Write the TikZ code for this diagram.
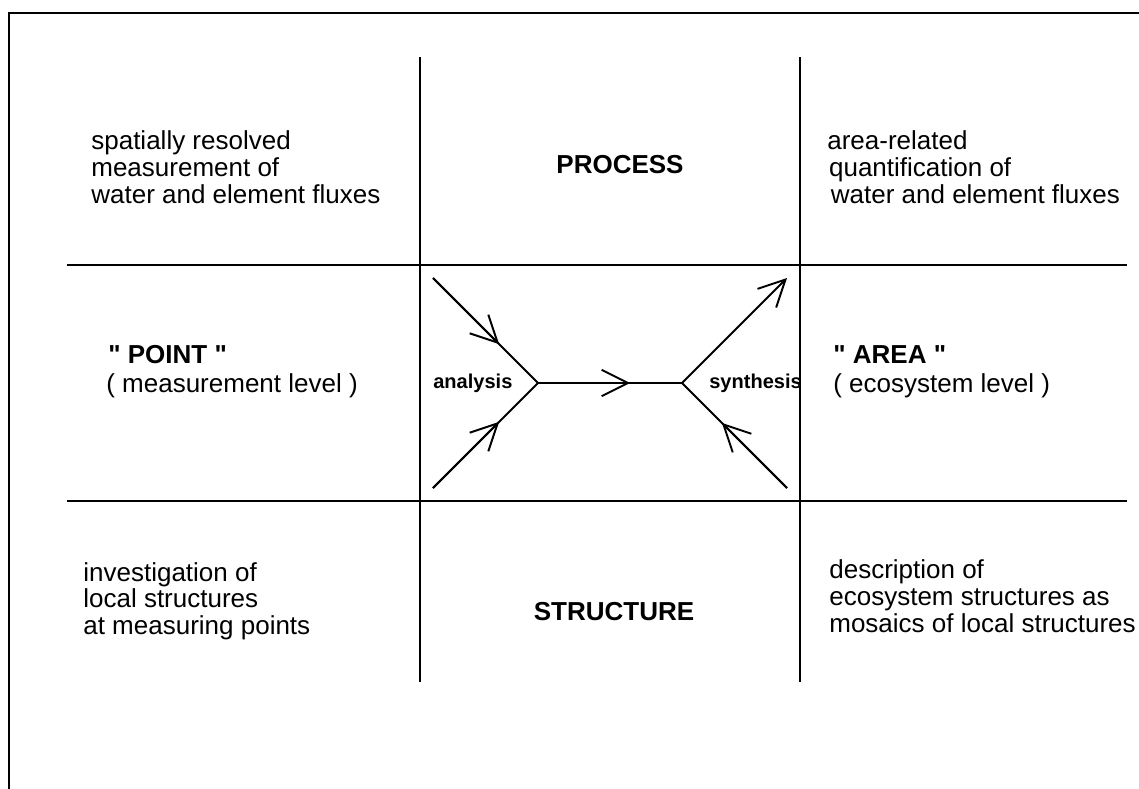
\documentclass[tikz,border=0pt]{standalone}
\usepackage{fontspec}
\setmainfont{Liberation Sans}[Ligatures=TeXOff]
\usetikzlibrary{arrows.meta, calc, positioning}
\tikzstyle{txt} = [anchor=west, align=left, inner sep=0pt,
    font=\fontsize{14.8}{15.2}\selectfont]
\tikzstyle{head} = [inner sep=0pt, font=\fontsize{14.8}{15.2}\selectfont\bfseries]
\tikzstyle{small} = [anchor=west, inner sep=0pt, font=\fontsize{11.4}{12}\selectfont\bfseries]
\tikzstyle{flow} = [line width=1.1pt]
\tikzstyle{divider} = [line width=0.6pt]

\begin{document}
\begin{tikzpicture}[x=0.02cm, y=-0.02cm, >={Straight Barb[length=15pt,width=15pt]}]
    \useasboundingbox (0,0) rectangle (1139,788);
    % frame
    \coordinate (frbl) at (9,800);
    \coordinate (frtl) at (9,13);
    \coordinate (frtr) at (1150,13);
    \draw [line width=1.3pt] (frbl) -- (frtl) -- (frtr);
    % the grid
    \coordinate (v1t) at (420,57);  \coordinate (v1b) at (420,682);
    \coordinate (v2t) at (800,57);  \coordinate (v2b) at (800,682);
    \coordinate (h1l) at (67,265);  \coordinate (h1r) at (1127,265);
    \coordinate (h2l) at (67,501);  \coordinate (h2r) at (1127,501);
    \draw [divider] (v1t) -- (v1b);
    \draw [divider] (v2t) -- (v2b);
    \draw [divider] (h1l) -- (h1r);
    \draw [divider] (h2l) -- (h2r);
    % texts
    \node [txt] (ptproc) at (91,167) {spatially resolved\\measurement of\\water and element fluxes};
    \node [head] (process) at (620,165) {PROCESS};
    \node [txt] (arproc) at (827,167) {area-related\\\hspace{1pt}quantification of\\\hspace{2pt}water and element fluxes};
    \node [head, anchor=west] (point) at (108,355) {" POINT "};
    \node [txt] (pointlvl) at (106,386) {( measurement level )};
    \node [head, anchor=west] (area) at (833,355) {" AREA "};
    \node [txt] (arealvl) at (833,386) {( ecosystem level )};
    \node [txt] (ptstruct) at (83,601) {investigation of\\local structures\\at measuring points};
    \node [head] (structure) at (614,612) {STRUCTURE};
    \node [txt] (arstruct) at (829,596) {description of\\ecosystem structures as\\mosaics of local structures};
    \node [small] (analysis) at (433,383) {analysis};
    \node [small] (synthesis) at (709,383) {synthesis};
    % analysis / synthesis
    \coordinate (ul) at (433,278);
    \coordinate (ll) at (433,488);
    \coordinate (ja) at (538,383);
    \coordinate (js) at (682,383);
    \coordinate (ur) at (787,278);
    \coordinate (lr) at (787,488);
    \draw [flow] (ul) -- (ja);
    \draw [flow,->] (ul) -- ($(ul)!0.63!(ja)$);
    \draw [flow] (ll) -- (ja);
    \draw [flow,->] (ll) -- ($(ll)!0.63!(ja)$);
    \draw [flow] (ja) -- (js);
    \draw [flow,->] (ja) -- ($(ja)!0.64!(js)$);
    \draw [flow,->] (js) -- (ur);
    \draw [flow] (lr) -- (js);
    \draw [flow,->] (lr) -- ($(lr)!0.62!(js)$);
\end{tikzpicture}
\end{document}
